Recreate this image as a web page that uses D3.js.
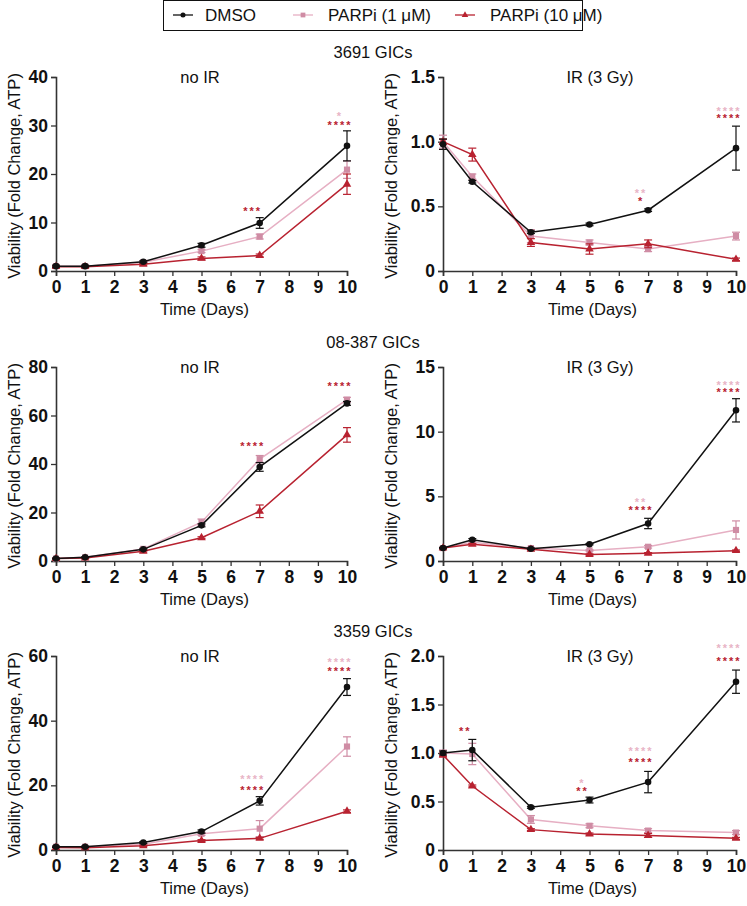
<!DOCTYPE html>
<html>
<head>
<meta charset="utf-8">
<script src="https://cdn.jsdelivr.net/npm/d3@7"></script>
<style>
  body { margin: 0; background: #fff; }
  svg { font-family: "Liberation Sans", Arial, sans-serif; }
</style>
</head>
<body>
<div id="chart"></div>
<script>
// time points (days)
const days = [0, 1, 3, 5, 7, 10];
const xTicks = [0, 1, 2, 3, 4, 5, 6, 7, 8, 9, 10];
const seriesNames = ['DMSO', 'PARPi (1 \u03bcM)', 'PARPi (10 \u03bcM)'];
const rowTitles = ['3691 GICs', '08-387 GICs', '3359 GICs'];
const colTitles = ['no IR', 'IR (3 Gy)'];

// 3691 no IR
const a_dmso = [1, 1, 1.9, 5.3, 9.9, 25.8];
const a_dmsoErr = [0.2, 0.2, 0.2, 0.4, 1.1, 3.1];
const a_p1 = [1, 1, 1.8, 4.1, 7.1, 20.9];
const a_p1Err = [0.2, 0.2, 0.2, 0.3, 0.5, 1.8];
const a_p10 = [0.9, 0.9, 1.4, 2.6, 3.2, 17.9];
const a_p10Err = [0.1, 0.1, 0.2, 0.3, 0.3, 2.1];
const a_yTicks = [0, 10, 20, 30, 40];

// 3691 IR
const b_dmso = [0.98, 0.69, 0.30, 0.36, 0.47, 0.95];
const b_dmsoErr = [0.04, 0.01, 0.01, 0.01, 0.01, 0.17];
const b_p1 = [1.0, 0.73, 0.27, 0.22, 0.17, 0.27];
const b_p1Err = [0.05, 0.02, 0.05, 0.02, 0.02, 0.03];
const b_p10 = [1.0, 0.90, 0.22, 0.17, 0.21, 0.09];
const b_p10Err = [0.02, 0.05, 0.03, 0.04, 0.03, 0.01];
const b_yTicks = [0, 0.5, 1.0, 1.5];

// 08-387 no IR
const c_dmso = [1, 1.5, 4.8, 14.7, 38.8, 65];
const c_dmsoErr = [0.2, 0.2, 0.3, 0.6, 1.8, 0.8];
const c_p1 = [1, 1.5, 5.0, 16.0, 42.0, 66.5];
const c_p1Err = [0.2, 0.2, 0.4, 1.3, 1.5, 1.0];
const c_p10 = [1, 1.2, 4.0, 9.6, 20.5, 52.0];
const c_p10Err = [0.1, 0.1, 0.3, 0.4, 2.6, 3.0];
const c_yTicks = [0, 20, 40, 60, 80];

// 08-387 IR
const d_dmso = [1.0, 1.65, 0.95, 1.3, 2.9, 11.65];
const d_dmsoErr = [0.05, 0.08, 0.05, 0.05, 0.4, 0.9];
const d_p1 = [1.0, 1.45, 1.0, 0.82, 1.1, 2.4];
const d_p1Err = [0.05, 0.1, 0.05, 0.05, 0.1, 0.7];
const d_p10 = [1.0, 1.3, 0.9, 0.5, 0.6, 0.8];
const d_p10Err = [0.05, 0.05, 0.05, 0.05, 0.05, 0.05];
const d_yTicks = [0, 5, 10, 15];

// 3359 no IR
const e_dmso = [1, 1, 2.3, 5.7, 15.2, 50.4];
const e_dmsoErr = [0.2, 0.2, 0.3, 0.5, 1.3, 2.6];
const e_p1 = [1, 1, 1.8, 5.0, 6.6, 32.0];
const e_p1Err = [0.2, 0.2, 0.3, 0.5, 2.5, 3.0];
const e_p10 = [0.8, 0.7, 1.3, 2.9, 3.6, 12.0];
const e_p10Err = [0.1, 0.1, 0.2, 0.3, 0.3, 0.4];
const e_yTicks = [0, 20, 40, 60];

// 3359 IR
const f_dmso = [1.0, 1.03, 0.44, 0.515, 0.70, 1.735];
const f_dmsoErr = [0.02, 0.11, 0.01, 0.03, 0.11, 0.12];
const f_p1 = [1.0, 0.99, 0.315, 0.25, 0.20, 0.18];
const f_p1Err = [0.03, 0.11, 0.04, 0.02, 0.02, 0.02];
const f_p10 = [0.98, 0.66, 0.21, 0.165, 0.15, 0.12];
const f_p10Err = [0.02, 0.01, 0.01, 0.01, 0.02, 0.01];
const f_yTicks = [0, 0.5, 1.0, 1.5, 2.0];

// significance marks: [day, label, series index, level]
const a_stars = [[7, '***', 2, 12.8], [10, '*', 1, 32.3], [10, '****', 2, 30.5]];
const b_stars = [[7, '**', 1, 0.62], [7, '*', 2, 0.56], [10, '****', 1, 1.25], [10, '****', 2, 1.20]];
const c_stars = [[7, '****', 2, 48.2], [10, '****', 2, 73]];
const d_stars = [[7, '**', 1, 4.7], [7, '****', 2, 4.1], [10, '****', 1, 13.8], [10, '****', 2, 13.2]];
const e_stars = [[7, '****', 1, 22.6], [7, '****', 2, 19.2], [10, '****', 1, 58.8], [10, '****', 2, 56]];
const f_stars = [[1, '**', 2, 1.25], [5, '*', 1, 0.71], [5, '**', 2, 0.63], [7, '****', 1, 1.04], [7, '****', 2, 0.93], [10, '****', 1, 2.10], [10, '****', 2, 1.97]];

const panels = [
  {row: 0, col: 0, max: 40, ticks: a_yTicks, fmt: d3.format('d'), s: [[a_dmso, a_dmsoErr], [a_p1, a_p1Err], [a_p10, a_p10Err]], stars: a_stars},
  {row: 0, col: 1, max: 1.5, ticks: b_yTicks, fmt: d => d === 0 ? '0' : d3.format('.1f')(d), s: [[b_dmso, b_dmsoErr], [b_p1, b_p1Err], [b_p10, b_p10Err]], stars: b_stars},
  {row: 1, col: 0, max: 80, ticks: c_yTicks, fmt: d3.format('d'), s: [[c_dmso, c_dmsoErr], [c_p1, c_p1Err], [c_p10, c_p10Err]], stars: c_stars},
  {row: 1, col: 1, max: 15, ticks: d_yTicks, fmt: d3.format('d'), s: [[d_dmso, d_dmsoErr], [d_p1, d_p1Err], [d_p10, d_p10Err]], stars: d_stars},
  {row: 2, col: 0, max: 60, ticks: e_yTicks, fmt: d3.format('d'), s: [[e_dmso, e_dmsoErr], [e_p1, e_p1Err], [e_p10, e_p10Err]], stars: e_stars},
  {row: 2, col: 1, max: 2.0, ticks: f_yTicks, fmt: d => d === 0 ? '0' : d3.format('.1f')(d), s: [[f_dmso, f_dmsoErr], [f_p1, f_p1Err], [f_p10, f_p10Err]], stars: f_stars}
];

// layout
const width = 747, height = 906;
const colX = [[56, 347], [443, 736]];
const rowY = [[77, 271], [367, 561], [656, 850]];
const rowTitleY = [52, 342, 631];
const lineCol = ['#111111', '#e6afc3', '#b82230'];
const markCol = ['#111111', '#cf8ca4', '#b82230'];
const starCol = ['#111111', '#e8b4c6', '#b82230'];
const axisCol = '#333';
const fontSize = 16.5;

const svg = d3.select('#chart').append('svg')
  .attr('width', width)
  .attr('height', height);

// legend
const legend = svg.append('g');
legend.append('rect')
  .attr('x', 163.5).attr('y', 0.5)
  .attr('width', 419).attr('height', 30)
  .attr('fill', '#fff').attr('stroke', '#111').attr('stroke-width', 1);
const legX = [173, 293, 455];
seriesNames.forEach((name, i) => {
  const g = legend.append('g').attr('transform', 'translate(' + legX[i] + ',15)');
  g.append('line').attr('x1', 0).attr('x2', 20)
    .attr('stroke', lineCol[i]).attr('stroke-width', 1.3);
  g.append('path').attr('transform', 'translate(10,0)')
    .attr('d', marker(i, 5)).attr('fill', markCol[i]);
  g.append('text').attr('x', i === 0 ? 32 : 35).attr('y', 6)
    .attr('font-size', 17).attr('fill', '#111').text(name);
});

rowTitles.forEach((t, i) => {
  svg.append('text').attr('x', 373).attr('y', rowTitleY[i] + 6)
    .attr('text-anchor', 'middle').attr('font-size', fontSize).attr('fill', '#111').text(t);
});

function marker(i, size) {
  if (i === 0) return d3.symbol(d3.symbolCircle, size * size * 0.8)();
  if (i === 1) return d3.symbol(d3.symbolSquare, size * size * 0.9)();
  return d3.symbol(d3.symbolTriangle, size * size * 0.75)();
}

panels.forEach(p => {
  const x = d3.scaleLinear().domain([0, 10]).range(colX[p.col]);
  const y = d3.scaleLinear().domain([0, p.max]).range([rowY[p.row][1], rowY[p.row][0]]);
  const g = svg.append('g');

  // axes
  const xAxis = g.append('g').attr('transform', 'translate(0,' + y(0) + ')')
    .call(d3.axisBottom(x).tickValues(xTicks).tickSize(5).tickPadding(5).tickFormat(d3.format('d')));
  const yAxis = g.append('g').attr('transform', 'translate(' + x(0) + ',0)')
    .call(d3.axisLeft(y).tickValues(p.ticks).tickSize(5).tickPadding(3).tickFormat(p.fmt));
  [xAxis, yAxis].forEach(a => {
    a.select('.domain').attr('stroke', axisCol).attr('stroke-width', 1.6);
    a.selectAll('.tick line').attr('stroke', axisCol).attr('stroke-width', 1.3);
    a.selectAll('.tick text').attr('fill', '#111').attr('font-size', 17.5)
      .attr('font-weight', 'bold').attr('font-family', '"Liberation Sans", Arial, sans-serif');
  });

  // titles
  const cx = (colX[p.col][0] + colX[p.col][1]) / 2;
  g.append('text').attr('x', p.col === 0 ? 200 : 600).attr('y', rowY[p.row][0] + 6)
    .attr('text-anchor', 'middle').attr('font-size', fontSize).attr('fill', '#111')
    .text(colTitles[p.col]);
  g.append('text').attr('x', cx + 3).attr('y', y(0) + 44)
    .attr('text-anchor', 'middle').attr('font-size', fontSize).attr('fill', '#111')
    .text('Time (Days)');
  const ly = (rowY[p.row][0] + rowY[p.row][1]) / 2 + 2;
  const lx = p.col === 0 ? 14 : 391;
  g.append('text')
    .attr('transform', 'translate(' + lx + ',' + ly + ') rotate(-90)')
    .attr('text-anchor', 'middle').attr('dominant-baseline', 'central')
    .attr('font-size', 16.5).attr('fill', '#111')
    .text('Viability (Fold Change, ATP)');

  // series (draw 10 µM first, DMSO last on top)
  [1, 2, 0].forEach(si => {
    const vals = p.s[si][0], errs = p.s[si][1];
    const pts = days.map((d, k) => ({d: d, v: vals[k], e: errs[k]}));
    const sg = g.append('g');
    sg.append('path').datum(pts)
      .attr('fill', 'none').attr('stroke', lineCol[si]).attr('stroke-width', 1.5)
      .attr('d', d3.line().x(d => x(d.d)).y(d => y(d.v)));
    const eb = sg.selectAll('g.err').data(pts).enter().append('g')
      .attr('stroke', markCol[si]).attr('stroke-width', 1.2);
    eb.append('line').attr('x1', d => x(d.d)).attr('x2', d => x(d.d))
      .attr('y1', d => y(d.v - d.e)).attr('y2', d => y(d.v + d.e));
    eb.append('line').attr('x1', d => x(d.d) - 4).attr('x2', d => x(d.d) + 4)
      .attr('y1', d => y(d.v + d.e)).attr('y2', d => y(d.v + d.e));
    eb.append('line').attr('x1', d => x(d.d) - 4).attr('x2', d => x(d.d) + 4)
      .attr('y1', d => y(d.v - d.e)).attr('y2', d => y(d.v - d.e));
    sg.selectAll('path.mk').data(pts).enter().append('path')
      .attr('transform', d => 'translate(' + x(d.d) + ',' + y(d.v) + ')')
      .attr('d', marker(si, 6.5)).attr('fill', markCol[si]);
  });

  // significance stars
  g.selectAll('text.star').data(p.stars).enter().append('text')
    .attr('x', d => x(d[0]) - 7)
    .attr('y', d => y(d[3]) + 6)
    .attr('text-anchor', 'middle')
    .attr('font-size', 11).attr('font-weight', 'bold')
    .attr('letter-spacing', 2)
    .attr('fill', d => starCol[d[2]])
    .text(d => d[1]);
});
</script>
</body>
</html>
